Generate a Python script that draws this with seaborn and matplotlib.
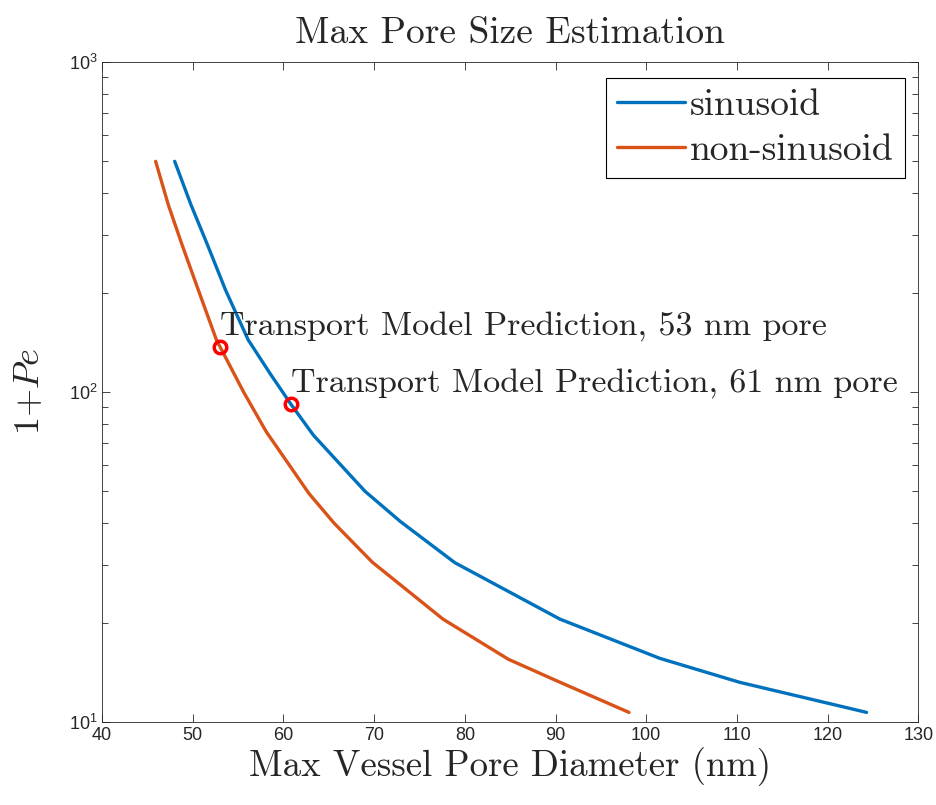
import numpy as np
import pandas as pd
import matplotlib
matplotlib.use('Agg')
import matplotlib.pyplot as plt
import seaborn as sns

# pore diameter (nm) vs 1+Pe
sin_d = [48.0, 49.8, 51.6, 53.6, 56.1, 58.5, 60.8, 63.3, 69.0, 72.9, 78.9, 90.5, 101.5, 110.3, 124.3]
sin_pe = [500, 369, 280, 204, 144, 114, 92, 74, 50, 40.5, 30.4, 20.5, 15.6, 13.2, 10.7]
non_d = [45.9, 47.3, 48.8, 50.6, 52.6, 55.6, 58.1, 62.8, 65.6, 69.8, 77.6, 84.8, 90.5, 98.1]
non_pe = [500, 369, 280, 204, 144, 100, 75.8, 49.3, 40.0, 30.5, 20.5, 15.5, 13.2, 10.7]

pred_d = [53.0, 60.8]
pred_pe = [137, 92]
pred_labels = ['Transport Model Prediction, 53 nm pore', 'Transport Model Prediction, 61 nm pore']
label_pe = [149, 100]

df = pd.concat([
    pd.DataFrame({'d': sin_d, 'pe': sin_pe, 'kind': 'sinusoid'}),
    pd.DataFrame({'d': non_d, 'pe': non_pe, 'kind': 'non-sinusoid'}),
])

sns.set_style('ticks')
serif = 'cmr10'
sans = 'Liberation Sans'
plt.rcParams['mathtext.fontset'] = 'cm'

fig = plt.figure(figsize=(9.37, 8.05), dpi=100)
ax = fig.add_axes([0.109, 0.103, 0.871, 0.820])

sns.lineplot(data=df, x='d', y='pe', hue='kind', sort=False, estimator=None,
             palette={'sinusoid': '#0072BD', 'non-sinusoid': '#D95319'},
             linewidth=2.4, ax=ax)
ax.plot(pred_d, pred_pe, 'o', ms=9, mfc='none', mec='red', mew=2.5, zorder=5)

for d, pe, lab in zip(pred_d, label_pe, pred_labels):
    ax.text(d, pe, lab, fontfamily=serif, fontsize=24.5, va='baseline', ha='left')

ax.set_yscale('log')
ax.set_xlim(40, 130)
ax.set_ylim(10, 1000)
ax.set_xticks(np.arange(40, 131, 10))
ax.set_yticks([10, 100, 1000])
ax.set_yticklabels([r'$\mathregular{10^{1}}$', r'$\mathregular{10^{2}}$', r'$\mathregular{10^{3}}$'])
for lab in ax.get_xticklabels() + ax.get_yticklabels():
    lab.set_fontfamily(sans)
    lab.set_fontsize(13)
    lab.set_color('#262626')

ax.tick_params(which='both', direction='in', top=True, right=True, colors='#262626')
ax.tick_params(which='major', length=6, width=0.6)
ax.tick_params(which='minor', length=4, width=0.6)
for s in ax.spines.values():
    s.set_linewidth(0.6)
    s.set_color('#262626')

ax.set_title('Max Pore Size Estimation', fontfamily=serif, fontsize=27, pad=14)
ax.set_xlabel('Max Vessel Pore Diameter (nm)', fontfamily=serif, fontsize=26.5, labelpad=2)
ax.set_ylabel(r'$1{+}Pe$', fontsize=26, labelpad=16)

leg = ax.legend(loc='upper right', prop={'family': serif, 'size': 27}, frameon=True,
                fancybox=False, framealpha=1, edgecolor='black', handlelength=1.8,
                handletextpad=0.15, borderpad=0.3, labelspacing=0.3,
                borderaxespad=0, bbox_to_anchor=(0.984, 0.976))
leg.get_frame().set_linewidth(0.8)

fig.savefig('out.png', dpi=100)
